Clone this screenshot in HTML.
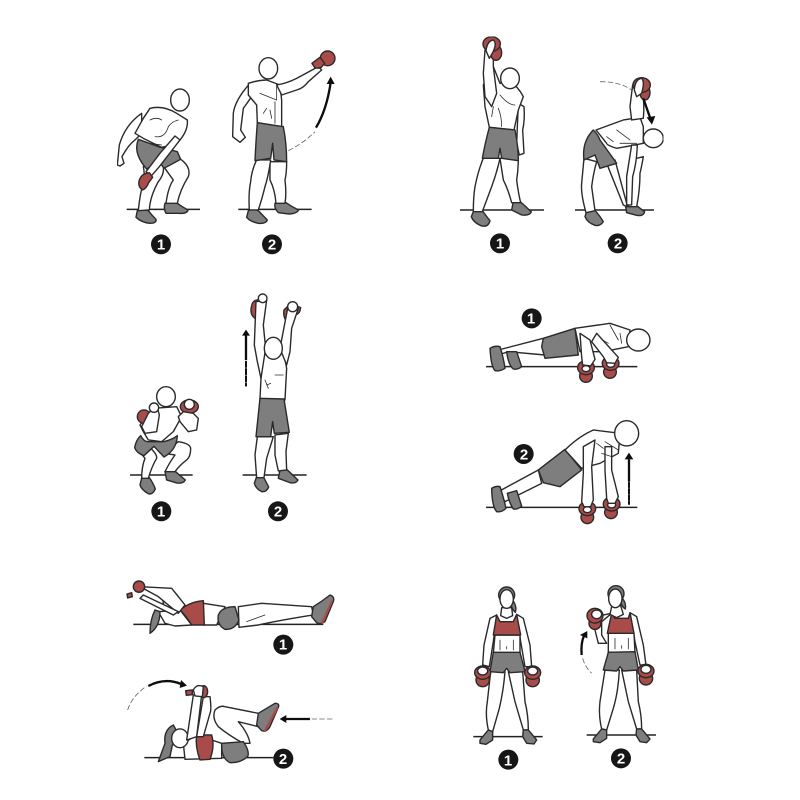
<!DOCTYPE html>
<html><head><meta charset="utf-8"><style>
html,body{margin:0;padding:0;background:#fff}
svg{display:block}
path,ellipse,circle{stroke:#2a2a2a;stroke-width:4.2;stroke-linejoin:round;stroke-linecap:round}
.w{fill:#fff}.g{fill:#7e7e7e}.r{fill:#a94c4a}.n{fill:none}.t{stroke-width:2.4}
.l{fill:none;stroke:#222;stroke-width:4.5;stroke-linecap:butt}
.a{fill:none;stroke:#111;stroke-width:7;stroke-linecap:butt}
.h{fill:#111;stroke:none}
.d{fill:none;stroke:#666;stroke-width:2.5;stroke-dasharray:16 7;stroke-linecap:butt}
.k{fill:none;stroke:#a94c4a;stroke-width:7}
circle.b{fill:#161616;stroke:none}
text{font-family:"Liberation Sans",sans-serif;font-weight:700;font-size:15px;fill:#fff;text-anchor:middle}
</style></head><body>
<svg width="800" height="800" viewBox="0 0 800 800" xmlns="http://www.w3.org/2000/svg">
<defs><filter id="s" x="0" y="0" width="100%" height="100%"><feGaussianBlur stdDeviation="0.35"/></filter></defs>
<rect width="800" height="800" fill="#fff"/>
<g filter="url(#s)">

<g transform="translate(100,30) scale(.3333)">
<path class="l" d="M80 538H300M415 538H635"/>
<path class="g" d="M112 542Q130 535 145 542Q155 555 168 568Q170 580 150 580Q125 578 108 562Z"/><path class="g" d="M195 520Q215 512 228 517Q245 530 264 540Q262 552 235 550H198Q190 535 195 520Z"/>
<path class="w" d="M195 395L238 385Q275 410 265 440Q240 480 232 520L198 520Q205 470 220 450Q205 430 195 415Z"/>
<path class="w" d="M130 410L185 395Q200 425 175 455Q150 500 148 540L115 542Q120 490 130 460Q135 430 130 410Z"/>
<path class="g" d="M115 328L175 350L232 365L242 388L192 415L178 395L140 417Q98 370 115 328Z"/>
<path class="w" d="M125 250Q75 285 58 345L52 405L60 408L72 400L66 380Q85 345 105 330L125 310Z"/>
<path class="w" d="M150 235Q190 225 230 250L262 270Q265 300 240 330L215 345L185 352L130 325L105 310L130 265Z"/>
<path class="w" d="M225 318L240 330L178 410L152 440L138 425L180 370Z"/>
<path class="n t" d="M165 320Q195 325 205 290Q215 275 235 270M150 340L185 345M150 270Q170 260 185 270"/>
<ellipse class="w" cx="240" cy="210" rx="28" ry="33"/>
<path class="r" d="M118 450Q125 430 148 428L158 442L146 458Q140 475 128 480Q112 470 118 450Z"/>

<path class="g" d="M445 542Q460 535 475 542Q490 558 502 570Q498 582 475 580Q450 575 440 562Z"/><path class="g" d="M525 520Q545 513 558 518Q575 530 596 540Q590 552 565 552L535 548Q522 535 525 520Z"/>
<path class="w" d="M510 395L560 395Q560 430 555 450Q560 490 555 520L528 520Q525 480 510 450Z"/>
<path class="w" d="M470 390L512 390Q505 440 495 470Q485 510 475 540L448 540Q445 490 452 455Q455 420 470 390Z"/>
<path class="w" d="M450 160Q405 210 400 250L398 320L420 337L436 322L422 300L430 235L455 200Z"/>
<path class="w" d="M445 160Q475 150 500 150L540 165L545 210L545 290L472 278L470 225L445 195Z"/>
<path class="w" d="M530 165Q560 160 590 145L655 110L665 120L625 155Q610 175 590 180L545 195Z"/>
<path class="n t" d="M480 190L530 210L530 165M525 215V280M510 240L515 265M500 235L490 250"/>
<path class="g" d="M472 278L550 290Q560 340 560 395L522 390L518 340L512 385L465 392Q468 330 472 278Z"/>
<ellipse class="w" cx="505" cy="115" rx="28" ry="32"/>
<circle class="r" cx="683" cy="85" r="22"/><path class="r" d="M636 100L660 82L674 100L662 114L645 114Z"/>
<path class="a" d="M648 293Q680 240 692 158"/><path class="h" d="M692 140L704 162H680Z"/>
<path class="d" d="M565 362Q610 340 645 305"/>
<circle class="b" cx="183" cy="643" r="30"/><circle class="b" cx="516" cy="643" r="30"/>
</g>

<g transform="translate(450,30) scale(.3333)">
<path class="l" d="M30 540H282M375 540H612"/>
<path class="g" d="M70 545Q85 538 98 543Q110 560 120 572Q115 592 95 588Q70 578 64 560Z"/><path class="g" d="M190 515Q205 512 212 516Q228 530 244 546Q238 558 215 555L185 540Z"/>
<path class="w" d="M150 385L205 385Q205 420 200 450Q205 490 212 518L185 518Q175 480 160 450Z"/>
<path class="w" d="M100 385L150 385Q140 430 125 470Q110 510 97 545L70 545Q70 500 75 470Q85 420 100 385Z"/>
<path class="w" d="M205 220L222 230Q225 270 218 300L222 370L208 375L200 340Z"/>
<path class="w" d="M130 110L150 160L175 150Q205 170 220 200L205 240L192 300L118 292L105 230L100 165Z"/>
<path class="w" d="M105 60L130 65L130 110L140 190L125 230L105 200L100 130Z"/>
<path class="n t" d="M150 195Q175 225 195 225M145 235Q155 260 155 290M130 230L125 260"/>
<path class="g" d="M118 292L195 300Q205 350 205 392L155 385L150 355L145 385L97 385Q105 340 118 292Z"/>
<ellipse class="w" cx="180" cy="145" rx="28" ry="31"/>
<ellipse class="r" cx="138" cy="68" rx="17" ry="23"/>
<ellipse class="r" cx="125" cy="42" rx="26" ry="22"/>
<path class="w" d="M108 62Q112 32 130 30Q142 40 128 68L118 85Z"/>

<path class="g" d="M410 545Q425 538 436 542Q450 558 460 575Q450 590 435 586Q412 578 405 560Z"/><path class="g" d="M527 530L560 527L584 545Q580 560 560 556L530 548Z"/>
<path class="w" d="M402 385L440 395Q430 430 425 470L435 542L408 548Q392 490 395 460Z"/>
<path class="w" d="M470 400L495 390L530 520L530 530L520 525Z"/>
<path class="w" d="M540 390L580 380Q575 410 570 430Q570 480 560 530L535 530Q535 480 530 440Z"/>
<path class="w" d="M438 300L520 270L570 262L580 290L580 340L555 345L500 355Q470 345 470 340Z"/>
<path class="w" d="M548 165L575 175Q585 220 580 265L545 270L540 230Z"/>
<path class="w" d="M545 345L562 345Q560 400 548 440L545 525L530 525L530 440Z"/>
<path class="n t" d="M500 300L540 330M510 340H560M470 320L490 335"/>
<path class="g" d="M430 300Q445 315 450 330L500 400L450 415L435 375L402 390Q395 335 430 300Z"/>
<ellipse class="w" cx="610" cy="325" rx="30" ry="28"/>
<ellipse class="r" cx="585" cy="188" rx="15" ry="22"/><ellipse class="r" cx="575" cy="165" rx="26" ry="22"/>
<path class="w" d="M553 180Q555 148 575 145Q585 155 575 190L560 200Z"/>
<path class="a" d="M580 205L602 268"/><path class="h" d="M606 284L590 262L616 258Z"/>
<path class="d" d="M450 155Q510 155 545 180"/>
<circle class="b" cx="150" cy="640" r="30"/><circle class="b" cx="503" cy="640" r="30"/>
</g>

<g transform="translate(120,285) scale(.3333)">
<path class="l" d="M30 570H218M368 570H560"/>
<path class="g" d="M65 580Q75 573 88 578Q100 595 106 612Q98 630 85 626Q65 615 60 600Z"/><path class="g" d="M135 560Q150 552 162 556L196 585Q190 597 170 594L140 585Z"/>
<path class="w" d="M50 490L80 480Q112 505 110 520Q95 545 85 580L65 580Q65 545 75 520Z"/>
<path class="w" d="M130 505L175 470Q210 475 212 490Q212 515 200 525Q180 540 165 560L135 560Q150 530 165 510Z"/>
<path class="g" d="M62 452Q70 468 82 470L130 470Q155 465 172 452Q170 495 132 516L102 484Q85 500 72 512Q50 505 44 488Q48 465 62 452Z"/>
<path class="w" d="M100 370L170 365L185 395L160 440L125 470L85 465L70 440L60 420Z"/>
<circle class="r" cx="72" cy="395" r="20"/><ellipse class="r" cx="208" cy="365" rx="27" ry="20"/>
<path class="w" d="M110 360L85 385L65 425L75 445L110 440L118 390Z"/>
<path class="w" d="M175 395L190 380L220 385L235 400L230 435L205 440L180 410Z"/>
<circle class="w" cx="102" cy="368" r="14"/><circle class="w" cx="208" cy="358" r="15"/>
<ellipse class="w" cx="138" cy="335" rx="28" ry="30"/>

<path class="g" d="M410 575L430 575L446 606Q440 622 425 620Q408 612 403 595Z"/><path class="g" d="M480 555Q490 551 500 553L534 585Q528 597 510 593L475 580Z"/>
<path class="w" d="M412 455L460 455L440 520L432 578L410 578L405 510Z"/>
<path class="w" d="M465 450L505 445L498 500L500 555L475 558L465 510Z"/>
<path class="w" d="M430 195L490 195L500 250L495 345L420 342L423 280Z"/>
<path class="r" d="M395 62Q398 44 418 44L420 70Q425 90 405 100Q388 88 395 62Z"/>
<path class="r" d="M492 75L512 55L542 68Q540 90 520 90Q518 108 505 114Q488 100 492 75Z"/>
<path class="w" d="M408 50L440 45L430 120L437 190L423 280L412 230L403 180Z"/>
<path class="w" d="M505 60L535 70L515 130L510 200L500 240L480 190Z"/>
<path class="n t" d="M435 285L445 310M465 270H490M440 300L452 295"/>
<path class="g" d="M420 340L492 342L508 442L463 445L458 410L452 455L408 455Z"/>
<ellipse class="w" cx="460" cy="190" rx="27" ry="33"/>
<circle class="w" cx="428" cy="40" r="13"/><circle class="w" cx="518" cy="65" r="15"/>
<path class="a" d="M378 225V150"/><path class="h" d="M378 134L390 152H366Z"/>
<path d="M378 230V302" style="fill:none;stroke:#111;stroke-width:6;stroke-dasharray:16 6"/>
<circle class="b" cx="124" cy="679" r="30"/><circle class="b" cx="474" cy="679" r="30"/>
</g>

<g transform="translate(480,300) scale(.3333)">
<path class="l" d="M18 200H472M18 622H472"/>
<path class="w" d="M55 165L55 150L190 115L195 165L85 155Z"/>
<path class="g" d="M30 145Q45 136 60 140Q70 170 75 205Q60 215 45 212Q33 200 30 145Z"/><path class="g" d="M80 155L110 155L125 200Q112 210 100 207Q85 195 80 155Z"/>
<path class="g" d="M190 115L285 85L295 165L195 175L185 140Z"/>
<path class="w" d="M285 85L390 70L450 90L445 140L370 155L300 155Z"/>
<path class="n t" d="M390 75L415 120M350 110L385 130M420 100L425 130"/>
<circle class="r" cx="390" cy="216" r="19"/><ellipse class="r" cx="392" cy="190" rx="25" ry="21"/><ellipse class="w" cx="392" cy="193" rx="12" ry="9"/>
<path class="w" d="M350 100L415 172L405 190L380 188L370 170L335 125Z"/>
<circle class="r" cx="318" cy="228" r="19"/><ellipse class="r" cx="318" cy="203" rx="25" ry="21"/><ellipse class="w" cx="318" cy="206" rx="12" ry="9"/>
<path class="w" d="M300 100L330 120L345 178L332 198L308 195L305 170Z"/>
<ellipse class="w" cx="475" cy="120" rx="35" ry="33"/>

<path class="w" d="M55 575L175 510L185 550L75 605Z"/>
<path class="g" d="M35 565Q48 557 60 560Q70 590 78 625Q65 638 50 635Q36 620 35 565Z"/><path class="g" d="M82 580L110 572L125 618Q112 630 100 627Q88 610 82 580Z"/>
<path class="g" d="M175 510L255 448L305 510L240 560L190 548Z"/>
<path class="w" d="M255 450Q295 410 340 390L420 400L415 460L360 490L305 505Z"/>
<circle class="r" cx="393" cy="637" r="19"/><ellipse class="r" cx="395" cy="612" rx="25" ry="21"/><ellipse class="w" cx="395" cy="615" rx="12" ry="9"/>
<path class="w" d="M375 440L395 440L395 510L415 590L405 610L385 610L380 595L375 510Z"/>
<circle class="r" cx="322" cy="652" r="19"/><ellipse class="r" cx="322" cy="626" rx="25" ry="21"/><ellipse class="w" cx="322" cy="629" rx="12" ry="9"/>
<path class="w" d="M310 440L345 420L335 500L340 600L332 620L312 620L305 605L310 520Z"/>
<path class="n t" d="M375 425L415 450M365 460L395 470M350 430L370 445"/>
<ellipse class="w" cx="440" cy="400" rx="36" ry="38"/>
<path class="a" d="M447 545V478"/><path class="h" d="M447 458L460 478H434Z"/>
<path d="M447 548V612" style="fill:none;stroke:#111;stroke-width:6;stroke-dasharray:14 5"/>
<circle class="b" cx="155" cy="55" r="30"/><circle class="b" cx="131" cy="462" r="30"/>
</g>

<g transform="translate(115,570) scale(.3333)">
<path class="l" d="M55 163H625M88 563H475"/>
<path class="w" d="M370 110L440 100L590 110L595 135Q500 150 430 165L372 172Z"/>
<path class="n t" d="M395 155L450 135"/>
<path class="g" d="M595 110Q620 95 645 75Q660 80 655 95L630 155Q615 165 605 158L590 140Z"/>
<path class="k" d="M650 95L622 158"/>
<path class="w" d="M265 100L330 110L305 165L265 165Z"/>
<path class="g" d="M310 135Q320 110 360 110L372 150Q360 180 330 178Q305 165 310 135Z"/>
<path class="w" d="M130 125L195 120L230 165L180 168L150 160Z"/>
<path class="r" d="M195 120Q225 95 265 92L268 165L230 165Q215 140 195 120Z"/>
<path class="g" d="M120 120Q105 150 105 190Q135 170 135 125Z"/>
<ellipse class="w" cx="168" cy="92" rx="24" ry="26"/>
<path class="w" d="M75 50L170 55L210 105L190 130L130 80Z"/>
<path class="w" d="M85 75L190 125L175 135L75 85Z"/>
<circle class="r" cx="72" cy="50" r="17"/><path class="r" d="M36 72L50 68L52 80L38 84Z"/>

<path class="w" d="M300 420Q315 405 330 410L430 430L430 470L370 455Q400 490 405 520L385 520Q340 495 310 470Q290 445 300 420Z"/>
<path class="g" d="M320 520L385 515Q405 545 398 560Q375 580 345 578Q318 565 320 520Z"/>
<path class="g" d="M430 430L480 400Q495 400 490 412L465 470Q455 488 440 482L425 465Z"/>
<path class="k" d="M486 415L450 482"/>
<path class="w" d="M205 520L245 495L320 520L320 565L210 568Z"/>
<path class="r" d="M245 495L290 495Q300 530 285 568L255 570Q240 530 245 495Z"/>
<path class="g" d="M175 465Q145 480 150 520L130 575L165 560L172 525L205 520Z"/>
<ellipse class="w" cx="195" cy="505" rx="25" ry="28"/>
<path class="w" d="M235 375L260 375L245 500L215 510Z"/>
<path class="w" d="M265 380L285 380Q290 420 285 430L265 500L245 500Z"/>
<path class="r" d="M212 362L232 360L232 374L214 376Z"/>
<ellipse class="r" cx="266" cy="365" rx="12" ry="18"/>
<path class="w" d="M235 360Q245 340 265 350L262 380L240 378Z"/>
<path class="a" d="M100 348Q150 322 198 342"/><path class="h" d="M216 347L194 354L198 330Z"/>
<path class="d" d="M38 420Q50 380 95 348"/>
<path class="a" d="M585 447H512"/><path class="h" d="M494 447L514 435V459Z"/>
<path class="d" d="M590 447H655"/>
<circle class="b" cx="505" cy="224" r="30"/><circle class="b" cx="505" cy="566" r="30"/>
</g>

<g transform="translate(460,575) scale(.3333)">
<path class="l" d="M40 485H248M380 480H588"/>
<path class="w" d="M92 290L135 290Q130 350 118 400L98 470L85 465Q75 420 82 380Z"/><path class="w" d="M145 290L188 290L195 380Q205 420 205 465L190 465L165 380Z"/>
<path class="g" d="M60 495L85 465L98 470L98 495L78 508L60 505Z"/><path class="g" d="M190 465L205 465L230 495L222 507L200 505L188 485Z"/>
<path class="w" d="M110 120L90 130L72 210L68 270L88 275L100 200Z"/><path class="w" d="M170 118L190 130L210 210L215 275L195 275L182 200Z"/>
<path class="w" d="M105 180L180 180L180 235L100 235Z"/>
<path class="n t" d="M120 195V225M160 195V225M140 215V222"/>
<path class="r" d="M110 120L120 140L160 140L170 118L182 180L100 180Z"/>
<path class="g" d="M100 232L180 232L195 290L150 293L140 280L130 293L90 290Z"/>
<ellipse class="g" cx="140" cy="60" rx="24" ry="24"/>
<path class="g" d="M158 75Q172 95 166 112Q154 102 153 85Z"/>
<path class="w" d="M125 98L155 98L158 122L140 130L122 122Z"/>
<ellipse class="w" cx="140" cy="72" rx="20" ry="28"/>
<ellipse class="r" cx="68" cy="315" rx="20" ry="20"/><ellipse class="r" cx="218" cy="315" rx="20" ry="20"/>
<ellipse class="r" cx="68" cy="293" rx="24" ry="20"/><ellipse class="r" cx="218" cy="293" rx="24" ry="20"/>
<ellipse class="w" cx="68" cy="288" rx="15" ry="12"/><ellipse class="w" cx="218" cy="288" rx="15" ry="12"/>

<path class="w" d="M435 285L478 285Q475 350 460 400L440 465L425 462Q415 420 420 380Z"/><path class="w" d="M485 285L530 285L535 380Q545 420 545 462L530 462L505 380Z"/>
<path class="g" d="M400 492L425 462L440 465L440 490L420 503L400 500Z"/><path class="g" d="M530 462L545 462L570 492L560 503L540 500L528 480Z"/>
<path class="w" d="M510 113L530 125L550 210L558 270L540 270L525 200Z"/>
<path class="w" d="M445 175L522 175L525 232L445 232Z"/>
<path class="n t" d="M465 190V222M505 190V222M485 212V220"/>
<path class="r" d="M455 115L465 130L505 130L510 113L522 175L442 175Z"/>
<path class="w" d="M455 115L425 140L425 180L440 205L415 205L405 165L405 125Z"/>
<path class="g" d="M445 232L525 230L535 285L490 288L480 275L470 288L430 285Z"/>
<ellipse class="g" cx="468" cy="56" rx="24" ry="24"/>
<path class="g" d="M486 68Q500 85 496 102Q484 95 482 78Z"/>
<path class="w" d="M455 95L482 92L490 118L470 128L450 118Z"/>
<ellipse class="w" cx="466" cy="70" rx="20" ry="28"/>
<circle class="r" cx="405" cy="145" r="18"/>
<ellipse class="r" cx="405" cy="122" rx="24" ry="22"/>
<ellipse class="w" cx="410" cy="118" rx="15" ry="13"/>
<ellipse class="r" cx="558" cy="310" rx="20" ry="20"/>
<ellipse class="r" cx="558" cy="288" rx="24" ry="20"/><ellipse class="w" cx="558" cy="283" rx="15" ry="12"/>
<path class="a" d="M365 240Q362 205 372 182"/><path class="h" d="M382 168L382 190L360 180Z"/>
<path class="d" d="M368 250Q375 275 395 295"/>
<circle class="b" cx="145" cy="554" r="30"/><circle class="b" cx="483" cy="550" r="30"/>
</g>
</g>

<text x="161" y="249.5">1</text><text x="272" y="249.5">2</text>
<text x="500" y="248.5">1</text><text x="618" y="248.5">2</text>
<text x="161" y="516.5">1</text><text x="278" y="516.5">2</text>
<text x="531" y="323.5">1</text><text x="524" y="459.5">2</text>
<text x="283" y="649.5">1</text><text x="283" y="764">2</text>
<text x="508" y="765.5">1</text><text x="621" y="763.5">2</text>
</svg>
</body></html>
